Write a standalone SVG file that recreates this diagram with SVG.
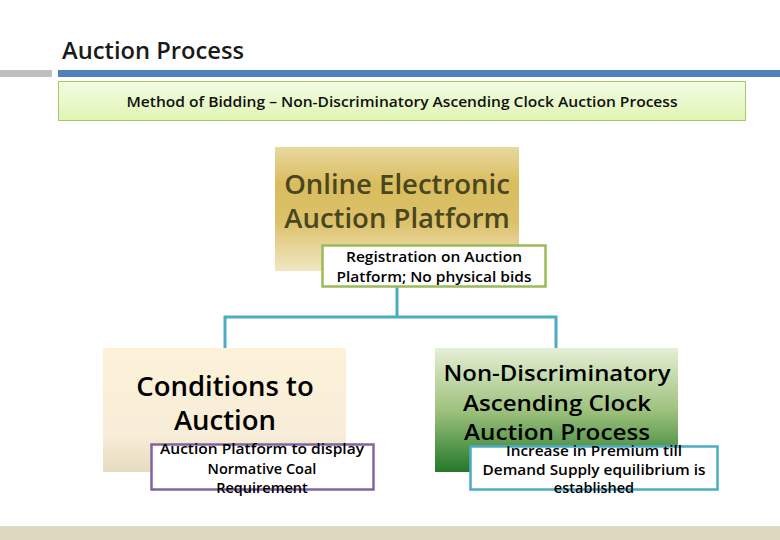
<svg xmlns="http://www.w3.org/2000/svg" width="780" height="540" viewBox="0 0 780 540">
<style>
text{font-family:"Open Sans","Noto Sans","Liberation Sans",sans-serif;text-anchor:middle;}
.big{font-size:27.5px;font-weight:600;}
.mid{font-size:22px;font-weight:600;}
.small{font-size:14.5px;font-weight:600;fill:#000;}
.conn{fill:none;stroke:#4BACC6;stroke-width:3;}
</style>
<defs>
<linearGradient id="gGold" x1="0" y1="0" x2="0" y2="1">
<stop offset="0" stop-color="#E9D9A0"/><stop offset="0.3" stop-color="#D9BC5E"/><stop offset="0.6" stop-color="#DCC16A"/><stop offset="1" stop-color="#F1E6C4"/>
</linearGradient>
<linearGradient id="gCream" x1="0" y1="0" x2="0" y2="1">
<stop offset="0" stop-color="#FDF1D8"/><stop offset="0.7" stop-color="#F7EDD8"/><stop offset="1" stop-color="#E6DCC0"/>
</linearGradient>
<linearGradient id="gGreen" x1="0" y1="0" x2="0" y2="1">
<stop offset="0" stop-color="#E4EFD5"/><stop offset="0.5" stop-color="#9FC27E"/><stop offset="1" stop-color="#24782A"/>
</linearGradient>
<linearGradient id="gLime" x1="0" y1="0" x2="0" y2="1">
<stop offset="0" stop-color="#F3FCE2"/><stop offset="1" stop-color="#E0F5B5"/>
</linearGradient>
</defs>
<rect width="780" height="540" fill="#fff"/>
<text x="62" y="59" style="text-anchor:start;font-size:24px;font-weight:600;fill:#1a1a1a" textLength="182" lengthAdjust="spacingAndGlyphs">Auction Process</text>
<rect x="0" y="70" width="52" height="7" fill="#BFBFBF"/>
<rect x="58" y="70" width="722" height="7" fill="#4F81BD"/>
<rect x="0" y="526" width="780" height="14" fill="#DDD8C0"/>
<g id="header">
<rect x="58.5" y="81.5" width="687" height="39" fill="url(#gLime)" stroke="#A6C86A" stroke-width="1"/>
<text x="402" y="107" style="font-size:15px;font-weight:600;fill:#111" textLength="551" lengthAdjust="spacingAndGlyphs">Method of Bidding – Non-Discriminatory Ascending Clock Auction Process</text>
</g>
<g id="connectors">
<path class="conn" d="M397 287 V317 M225 348 V317 H556 V348"/>
</g>
<g id="online">
<rect x="275" y="147" width="244" height="124" fill="url(#gGold)"/>
<text class="big" x="397" y="194" fill="#494620">Online Electronic</text>
<text class="big" x="397" y="228" fill="#494620">Auction Platform</text>
</g>
<g id="registration">
<rect x="322.5" y="245.5" width="223" height="41" fill="#fff" stroke="#9BBB59" stroke-width="2.5"/>
<text class="small" x="434" y="262" textLength="176" lengthAdjust="spacingAndGlyphs">Registration on Auction</text>
<text class="small" x="434" y="282" textLength="195" lengthAdjust="spacingAndGlyphs">Platform; No physical bids</text>
</g>
<g id="conditions">
<rect x="103" y="348" width="243" height="124" fill="url(#gCream)"/>
<text class="big" x="225" y="396" fill="#000">Conditions to</text>
<text class="big" x="225" y="430" fill="#000">Auction</text>
</g>
<g id="normative">
<rect x="151.5" y="444.5" width="222" height="45" fill="#fff" stroke="#8064A2" stroke-width="2.5"/>
<text class="small" x="262" y="454" textLength="204" lengthAdjust="spacingAndGlyphs">Auction Platform to display</text>
<text class="small" x="262" y="473.5">Normative Coal</text>
<text class="small" x="262" y="493">Requirement</text>
</g>
<g id="ndac">
<rect x="435" y="348" width="243" height="124" fill="url(#gGreen)"/>
<text class="mid" x="557" y="381" fill="#000" textLength="227" lengthAdjust="spacingAndGlyphs">Non-Discriminatory</text>
<text class="mid" x="557" y="411" fill="#000" textLength="188" lengthAdjust="spacingAndGlyphs">Ascending Clock</text>
<text class="mid" x="557" y="440" fill="#000" textLength="186" lengthAdjust="spacingAndGlyphs">Auction Process</text>
</g>
<g id="increase">
<rect x="470.5" y="446.5" width="247" height="43" fill="#fff" stroke="#4BACC6" stroke-width="2.5"/>
<text class="small" x="594" y="456" textLength="176" lengthAdjust="spacingAndGlyphs">Increase in Premium till</text>
<text class="small" x="594" y="474.5" textLength="223" lengthAdjust="spacingAndGlyphs">Demand Supply equilibrium is</text>
<text class="small" x="594" y="493">established</text>
</g>
</svg>
